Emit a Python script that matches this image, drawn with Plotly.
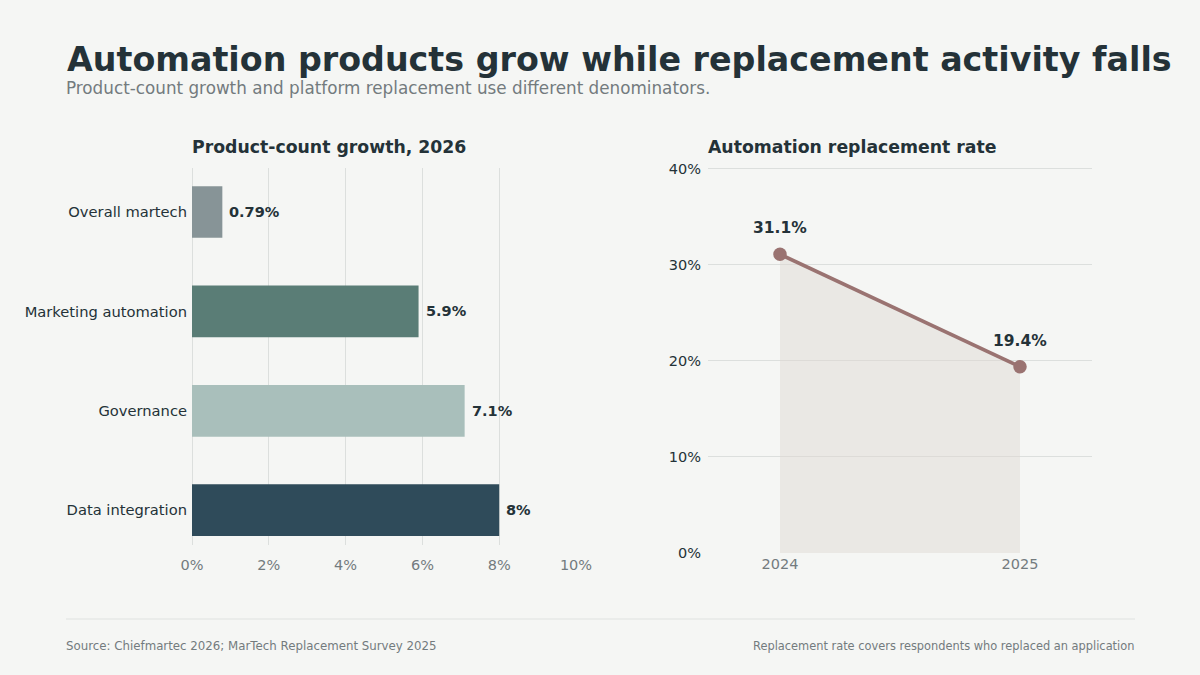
import plotly.graph_objects as go

# ---- data ----
categories = ["Overall martech", "Marketing automation", "Governance", "Data integration"]
growth_pct = [0.79, 5.9, 7.1, 8.0]
growth_labels = ["0.79%", "5.9%", "7.1%", "8%"]
bar_colors = ["#879497", "#5a7d76", "#a9bfbb", "#2f4b5a"]

years = [2024, 2025]
replacement_pct = [31.1, 19.4]
replacement_labels = ["31.1%", "19.4%"]

x_ticks = [0, 2, 4, 6, 8, 10]
x_ticklabels = ["0%", "2%", "4%", "6%", "8%", "10%"]
y_ticks = [0, 10, 20, 30, 40]
y_ticklabels = ["0%", "10%", "20%", "30%", "40%"]

BG = "#f5f6f4"
DARK = "#243238"
MUTED = "#737b7e"
GRID = "#dcdfdd"
FONT = "DejaVu Sans"

fig = go.Figure()

fig.add_trace(go.Bar(
    x=growth_pct, y=categories, orientation="h",
    marker=dict(color=bar_colors, line=dict(width=0)),
    width=0.52,
    hoverinfo="skip",
    xaxis="x", yaxis="y", showlegend=False,
))

fig.add_trace(go.Scatter(
    x=years, y=replacement_pct, mode="lines+markers",
    line=dict(color="#9a7371", width=3.8),
    marker=dict(size=13.5, color="#9a7371"),
    fill="tozeroy", fillcolor="rgba(222,216,208,0.45)",
    xaxis="x2", yaxis="y2", showlegend=False, hoverinfo="skip",
    cliponaxis=False,
))

annotations = []
for cat, v, lab in zip(categories, growth_pct, growth_labels):
    annotations.append(dict(
        x=v, y=cat, xref="x", yref="y", text=lab, showarrow=False,
        xanchor="left", xshift=5,
        font=dict(family=FONT, size=14.5, color=DARK, weight="bold"),
    ))
for yr, v, lab in zip(years, replacement_pct, replacement_labels):
    annotations.append(dict(
        x=yr, y=v, xref="x2", yref="y2", text=lab, showarrow=False,
        yshift=26, font=dict(family=FONT, size=15.5, color=DARK, weight="bold"),
    ))

# titles and texts
annotations += [
    dict(x=66/1200, y=1-60/675, xref="paper", yref="paper", xanchor="left", yanchor="middle",
         xshift=-1.5, yshift=1,
         text="<b>Automation products grow while replacement activity falls</b>",
         showarrow=False, font=dict(family=FONT, size=33.3, color=DARK)),
    dict(x=66/1200, y=1-87/675, xref="paper", yref="paper", xanchor="left", yanchor="middle",
         xshift=-2, yshift=-1,
         text="Product-count growth and platform replacement use different denominators.",
         showarrow=False, font=dict(family=FONT, size=16.8, color=MUTED)),
    dict(x=192/1200, y=1-147/675, xref="paper", yref="paper", xanchor="left", yanchor="middle",
         xshift=-2,
         text="<b>Product-count growth, 2026</b>",
         showarrow=False, font=dict(family=FONT, size=17.3, color=DARK)),
    dict(x=708/1200, y=1-147/675, xref="paper", yref="paper", xanchor="left", yanchor="middle",
         xshift=-2,
         text="<b>Automation replacement rate</b>",
         showarrow=False, font=dict(family=FONT, size=17.3, color=DARK)),
    dict(x=66/1200, y=1-646/675, xref="paper", yref="paper", xanchor="left", yanchor="middle",
         xshift=-2,
         text="Source: Chiefmartec 2026; MarTech Replacement Survey 2025",
         showarrow=False, font=dict(family=FONT, size=11.8, color=MUTED)),
    dict(x=1134/1200, y=1-646/675, xref="paper", yref="paper", xanchor="right", yanchor="middle",
         xshift=2,
         text="Replacement rate covers respondents who replaced an application",
         showarrow=False, font=dict(family=FONT, size=11.4, color=MUTED)),
]

fig.update_layout(
    width=1200, height=675,
    margin=dict(l=0, r=0, t=0, b=0, autoexpand=False),
    paper_bgcolor=BG, plot_bgcolor=BG,
    font=dict(family=FONT, color=DARK),
    annotations=annotations,
    shapes=[dict(type="line", xref="paper", yref="paper",
                 x0=66/1200, x1=1135/1200, y0=1-619/675, y1=1-619/675,
                 line=dict(color="#dfe2e0", width=1))],
    xaxis=dict(domain=[192/1200, 576/1200], range=[0, 10], tickvals=x_ticks, ticktext=x_ticklabels,
               showgrid=True, gridcolor=GRID, zeroline=True, zerolinecolor=GRID, zerolinewidth=1,
               showline=False, automargin=False, ticklabelstandoff=9,
               tickfont=dict(family=FONT, size=14.5, color=MUTED), anchor="y", fixedrange=True),
    yaxis=dict(domain=[1-545/675, 1-168/675], range=[3.35, -0.443], automargin=False,
               tickfont=dict(family=FONT, size=14.7, color=DARK), showgrid=False,
               zeroline=False, showline=False, anchor="x", ticks="", ticklabelstandoff=4,
               fixedrange=True),
    xaxis2=dict(domain=[708/1200, 1092/1200], range=[2023.7, 2025.3], tickvals=years,
                ticktext=[str(y) for y in years], showgrid=False, zeroline=False,
                showline=False, automargin=False,
                tickfont=dict(family=FONT, size=14.5, color=MUTED),
                anchor="y2", fixedrange=True),
    yaxis2=dict(domain=[1-553/675, 1-166/675], range=[0, 40.3], tickvals=y_ticks,
                ticktext=y_ticklabels, showgrid=True, gridcolor=GRID, zeroline=False,
                showline=False, automargin=False, ticklabelstandoff=6,
                tickfont=dict(family=FONT, size=14.5, color=DARK),
                anchor="x2", fixedrange=True),
)

fig.write_html("out.html", config={"displayModeBar": False},
               post_script="document.body.style.margin='0';")
